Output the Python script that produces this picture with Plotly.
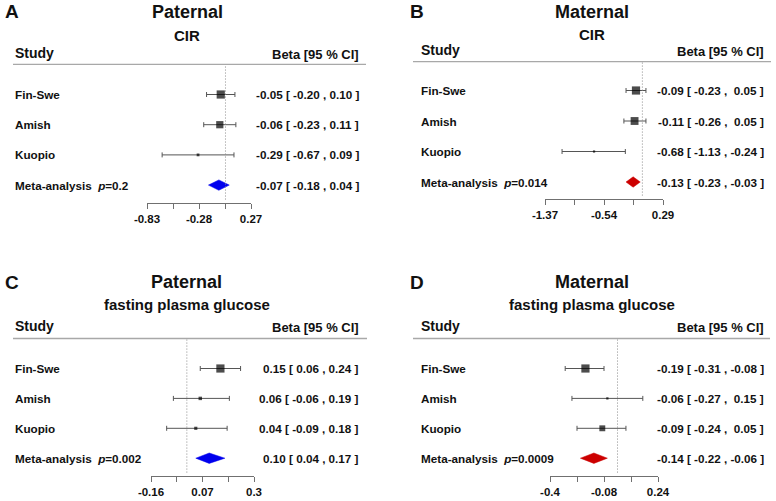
import plotly.graph_objects as go

# ---------------- data ----------------
studies = ["Fin-Swe", "Amish", "Kuopio"]
meta_name = "Meta-analysis"

# A: Paternal, CIR
a_beta = [-0.05, -0.06, -0.29]
a_lo = [-0.20, -0.23, -0.67]
a_hi = [0.10, 0.11, 0.09]
a_weight = [50, 44, 17]
a_meta = [-0.07, -0.18, 0.04]
a_p = "0.2"
a_ticks = [-0.83, -0.555, -0.28, -0.005, 0.27]
a_ticktext = ["-0.83", "", "-0.28", "", "0.27"]

# B: Maternal, CIR
b_beta = [-0.09, -0.11, -0.68]
b_lo = [-0.23, -0.26, -1.13]
b_hi = [0.05, 0.05, -0.24]
b_weight = [48, 46, 13]
b_meta = [-0.13, -0.23, -0.03]
b_p = "0.014"
b_ticks = [-1.37, -0.955, -0.54, -0.125, 0.29]
b_ticktext = ["-1.37", "", "-0.54", "", "0.29"]

# C: Paternal, fasting plasma glucose
c_beta = [0.15, 0.06, 0.04]
c_lo = [0.06, -0.06, -0.09]
c_hi = [0.24, 0.19, 0.18]
c_weight = [52, 22, 20]
c_meta = [0.10, 0.04, 0.17]
c_p = "0.002"
c_ticks = [-0.16, -0.045, 0.07, 0.185, 0.30]
c_ticktext = ["-0.16", "", "0.07", "", "0.3"]

# D: Maternal, fasting plasma glucose
d_beta = [-0.19, -0.06, -0.09]
d_lo = [-0.31, -0.27, -0.24]
d_hi = [-0.08, 0.15, 0.05]
d_weight = [50, 14, 36]
d_meta = [-0.14, -0.22, -0.06]
d_p = "0.0009"
d_ticks = [-0.40, -0.24, -0.08, 0.08, 0.24]
d_ticktext = ["-0.4", "", "-0.08", "", "0.24"]

# ---------------- layout specs (pixels) ----------------
W, H = 776, 501
FONT = "Liberation Sans, Arial, sans-serif"
ROW_FONT = 11.7


def px(x):
    return x / W


def py(y):
    return 1 - y / H


panels = [
    dict(letter="A", title="Paternal", sub="CIR", beta=a_beta, lo=a_lo, hi=a_hi,
         w=a_weight, meta=a_meta, p=a_p, ticks=a_ticks, ticktext=a_ticktext,
         color="#0000EE", pad=False,
         L=dict(let_x=4, let_y=11.5, tit_y=12, sub_y=35.5, cx=187,
                study_y=53.3, beta_y=54.5, head_y=64.3, hx0=13, hx1=366,
                lx=14, rx=360, row0=94.5, dy=30.2, axis_y=203, ax0=147, ax1=251)),
    dict(letter="B", title="Maternal", sub="CIR", beta=b_beta, lo=b_lo, hi=b_hi,
         w=b_weight, meta=b_meta, p=b_p, ticks=b_ticks, ticktext=b_ticktext,
         color="#CC0000", pad=True,
         L=dict(let_x=409, let_y=11, tit_y=12, sub_y=35, cx=591.5,
                study_y=50, beta_y=51, head_y=61.7, hx0=413, hx1=771,
                lx=419.5, rx=765, row0=90.5, dy=30.5, axis_y=199, ax0=545, ax1=663)),
    dict(letter="C", title="Paternal", sub="fasting plasma glucose", beta=c_beta, lo=c_lo,
         hi=c_hi, w=c_weight, meta=c_meta, p=c_p, ticks=c_ticks, ticktext=c_ticktext,
         color="#0000EE", pad=False,
         L=dict(let_x=4, let_y=282.5, tit_y=282, sub_y=304.5, cx=186.5,
                study_y=326, beta_y=327, head_y=338.5, hx0=13, hx1=367,
                lx=14, rx=360, row0=368.5, dy=29.9, axis_y=476, ax0=151, ax1=254)),
    dict(letter="D", title="Maternal", sub="fasting plasma glucose", beta=d_beta, lo=d_lo,
         hi=d_hi, w=d_weight, meta=d_meta, p=d_p, ticks=d_ticks, ticktext=d_ticktext,
         color="#CC0000", pad=True,
         L=dict(let_x=409, let_y=282.5, tit_y=282, sub_y=304.5, cx=591.5,
                study_y=326, beta_y=327, head_y=338.5, hx0=413, hx1=770,
                lx=419.5, rx=765, row0=368.5, dy=29.9, axis_y=476, ax0=550, ax1=658)),
]

NB = "\u00a0"


def fmt(v):
    s = f"{v:.2f}"
    if s == "-0.00":
        s = "0.00"
    return s


def ci_text(b, lo, hi, pad):
    hs = fmt(hi)
    if pad and hi >= 0:
        hs = NB + hs
    return f"<b>{fmt(b)} [ {fmt(lo)} , {hs} ]</b>".replace(" ", NB)


fig = go.Figure()
annotations = []
shapes = []
layout_axes = {}

for i, P in enumerate(panels, start=1):
    L = P["L"]
    xa = "x" if i == 1 else f"x{i}"
    ya = "y" if i == 1 else f"y{i}"
    xkey = "xaxis" if i == 1 else f"xaxis{i}"
    ykey = "yaxis" if i == 1 else f"yaxis{i}"
    n = len(P["beta"]) + 1
    rows = [n - 1 - k for k in range(len(P["beta"]))]
    meta_row = 0

    def yval(pix, L=L, n=n):
        return (n - 1) - (pix - L["row0"]) / L["dy"]

    yr = [yval(L["axis_y"]), yval(L["head_y"])]

    layout_axes[xkey] = dict(
        domain=[px(L["ax0"]), px(L["ax1"])], range=[P["ticks"][0], P["ticks"][-1]],
        anchor=ya, showline=True, linecolor="#707070", linewidth=1,
        ticks="outside", ticklen=5, tickcolor="#707070", tickwidth=1,
        tickvals=P["ticks"], ticktext=[f"<b>{t}</b>" if t else "" for t in P["ticktext"]],
        tickfont=dict(family=FONT, size=11.5, color="#111"),
        showgrid=False, zeroline=False, fixedrange=True, automargin=False)
    layout_axes[ykey] = dict(
        domain=[py(L["axis_y"]), py(L["head_y"])], range=yr, visible=False,
        fixedrange=True, anchor=xa, automargin=False)

    # null reference line
    shapes.append(dict(type="line", xref=xa, yref=f"{ya} domain", x0=0, x1=0,
                       y0=0.025, y1=1.0,
                       line=dict(color="#8a8a8a", width=1, dash="1px,2px")))
    # header separator
    shapes.append(dict(type="line", xref="paper", yref="paper",
                       x0=px(L["hx0"]), x1=px(L["hx1"]),
                       y0=py(L["head_y"]), y1=py(L["head_y"]),
                       line=dict(color="#a8a8a8", width=1.3)))

    # confidence intervals with end caps
    fig.add_trace(go.Scatter(
        x=P["beta"], y=rows, mode="markers", xaxis=xa, yaxis=ya,
        marker=dict(size=1, opacity=0),
        error_x=dict(type="data", symmetric=False,
                     array=[h - b for h, b in zip(P["hi"], P["beta"])],
                     arrayminus=[b - l for b, l in zip(P["beta"], P["lo"])],
                     color="#555555", thickness=1, width=2.5),
        cliponaxis=False, showlegend=False, hoverinfo="skip"))

    # weighted boxes on top
    wmax = max(P["w"])
    sizes = [max(2.0, 8.2 * w / wmax) for w in P["w"]]
    fig.add_trace(go.Scatter(
        x=P["beta"], y=rows, mode="markers", xaxis=xa, yaxis=ya,
        marker=dict(symbol="square", size=sizes, color="#000000", line=dict(width=0)),
        cliponaxis=False, showlegend=False, hoverinfo="skip"))

    mb, ml, mh = P["meta"]
    dh = 5.2 / L["dy"]
    fig.add_trace(go.Scatter(
        x=[ml, mb, mh, mb, ml], y=[meta_row, meta_row + dh, meta_row, meta_row - dh, meta_row],
        mode="lines", fill="toself", fillcolor=P["color"], xaxis=xa, yaxis=ya,
        line=dict(color=P["color"], width=0.5), showlegend=False, hoverinfo="skip"))

    def ann(text, x, y, size, xanchor, yref="paper"):
        annotations.append(dict(text=text, x=x, y=y, xref="paper", yref=yref,
                                xanchor=xanchor, yanchor="middle", showarrow=False,
                                font=dict(family=FONT, size=size, color="#111"),
                                borderpad=0))

    ann(f"<b>{P['letter']}</b>", px(L["let_x"]), py(L["let_y"]), 19, "left")
    ann(f"<b>{P['title']}</b>", px(L["cx"]), py(L["tit_y"]), 18, "center")
    ann(f"<b>{P['sub']}</b>", px(L["cx"]), py(L["sub_y"]), 15, "center")
    ann("<b>Study</b>", px(L["lx"]), py(L["study_y"]), 14, "left")
    ann("<b>Beta [95 % CI]</b>".replace(" ", NB), px(L["rx"]), py(L["beta_y"]), 13, "right")

    for name, r, b, lo, hi in zip(studies, rows, P["beta"], P["lo"], P["hi"]):
        ann(f"<b>{name}</b>", px(L["lx"]), r, ROW_FONT, "left", yref=ya)
        ann(ci_text(b, lo, hi, P["pad"]), px(L["rx"]), r, ROW_FONT, "right", yref=ya)
    ann(f"<b>{meta_name}{NB}{NB}<i>p</i>={P['p']}</b>", px(L["lx"]), meta_row, ROW_FONT, "left", yref=ya)
    ann(ci_text(mb, ml, mh, P["pad"]), px(L["rx"]), meta_row, ROW_FONT, "right", yref=ya)

fig.update_layout(
    template="none",
    width=W, height=H, margin=dict(l=0, r=0, t=0, b=0, pad=0, autoexpand=False),
    paper_bgcolor="white", plot_bgcolor="rgba(0,0,0,0)",
    showlegend=False, annotations=annotations, shapes=shapes,
    font=dict(family=FONT, color="#111"),
    **layout_axes)

fig.write_html("out.html", config=dict(displayModeBar=False),
               post_script="document.body.style.margin='0';document.body.style.overflow='hidden';")
